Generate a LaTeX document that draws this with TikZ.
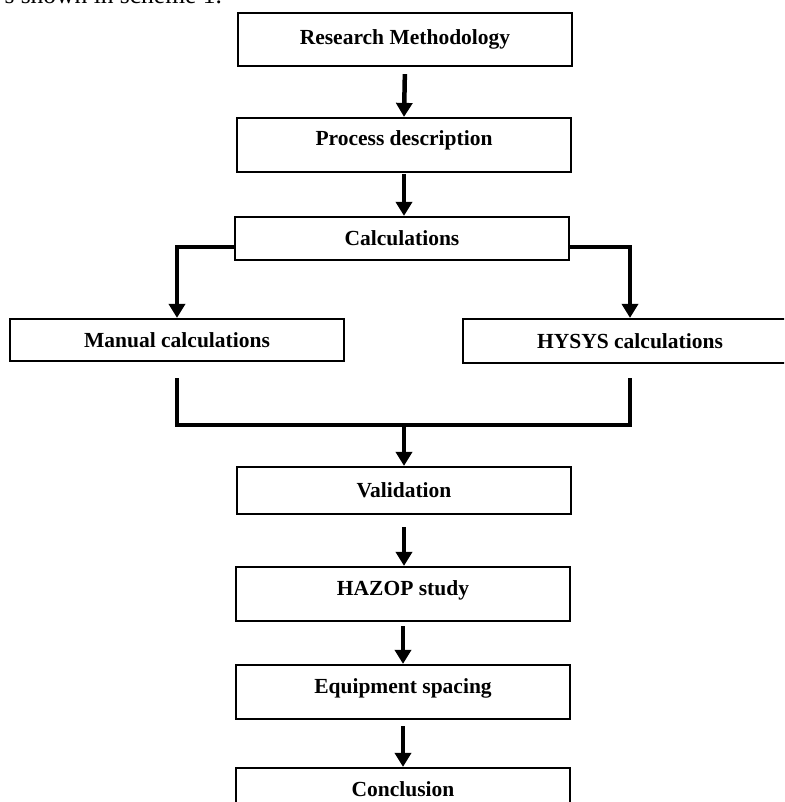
\documentclass[tikz,border=0pt]{standalone}
\usepackage{fontspec}
\setmainfont{Liberation Serif}
\usetikzlibrary{arrows.meta}

\begin{document}
\begin{tikzpicture}[x=1pt,y=-1pt,
	stage/.style={draw, line width=2.2pt, minimum width=334pt, inner sep=0pt,
		font=\fontsize{21.5}{25}\selectfont\bfseries},
	lifted/.style={text height=14pt, text depth=12pt},
	flow/.style={line width=4.5pt, -{Triangle[width=16pt,length=14pt]}},
	trunk/.style={line width=4.5pt}]
	\useasboundingbox (0,0) rectangle (784,802);
	\clip (0,0) rectangle (784,802);
	\node[anchor=base west, font=\fontsize{25.5}{30}\selectfont] (lead) at (1,4) {s shown in scheme 1.};
	\node[stage, minimum height=53pt] (res) at (405,39.5) {Research Methodology};
	\node[stage, lifted, minimum height=54pt] (proc) at (404,145) {Process description};
	\node[stage, minimum height=43pt] (calc) at (402,238.5) {Calculations};
	\node[stage, minimum height=42pt] (man) at (177,340) {Manual calculations};
	\node[stage, minimum height=44pt] (hys) at (630,341) {HYSYS calculations};
	\node[stage, minimum height=47pt] (val) at (404,490.5) {Validation};
	\node[stage, lifted, minimum height=54pt] (haz) at (403,594) {HAZOP study};
	\node[stage, lifted, minimum height=54pt] (equ) at (403,692) {Equipment spacing};
	\node[stage, lifted, minimum height=54pt] (con) at (403,795) {Conclusion};
	\coordinate (join) at (404,425);
	\draw[flow, shorten <=7pt] (res.south) -- (proc.north);
	\draw[flow, shorten <=1pt] (proc.south) -- (calc.north -| proc.south);
	\draw[flow] ([yshift=-8.5pt]calc.west) -| (man.north);
	\draw[flow] ([yshift=-8.5pt]calc.east) -| (hys.north);
	\draw[trunk] ([yshift=-16pt]man.south) |- (join) -| ([yshift=-14pt]hys.south);
	\draw[flow] (join) -- (val.north);
	\draw[flow, shorten <=12pt] (val.south) -- (haz.north -| val.south);
	\draw[flow, shorten <=4pt] (haz.south) -- (equ.north);
	\draw[flow, shorten <=6pt] (equ.south) -- (con.north);
\end{tikzpicture}
\end{document}
